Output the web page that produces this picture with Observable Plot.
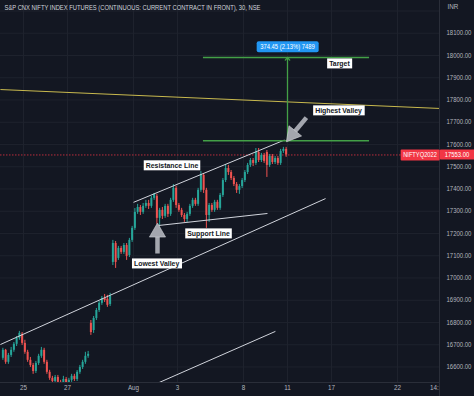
<!DOCTYPE html>
<html><head><meta charset="utf-8">
<script src="https://cdn.jsdelivr.net/npm/d3@7"></script>
<script src="https://cdn.jsdelivr.net/npm/@observablehq/plot@0.6"></script>
<style>
html,body{margin:0;padding:0;background:#131722;}
#chart svg{display:block;}
</style></head><body><div id="chart"></div>
<script>
// ---- data (30-min candles, approx 8 per trading day; day 0 = Jul 22) ----
const barsPerDay = 8;
const opens = [
16639,16675,16621,16652,16675,16702,16729,16747,
16706,16666,16630,16607,16580,16616,16648,16675,
16621,16576,16549,16535,16553,16531,16522,16544,
16513,16540,16558,16544,16576,16598,16621,16648,
16796,16764,16818,16854,16886,16908,16904,16881,
17070,17155,17088,17133,17115,17146,17101,17169,
17223,17295,17317,17295,17322,17335,17322,17358,
17367,17268,17304,17277,17322,17286,17349,17403,
17326,17304,17281,17263,17286,17322,17349,17331,
17394,17461,17394,17281,17326,17304,17340,17313,
17371,17438,17492,17474,17447,17420,17394,17411,
17438,17474,17506,17528,17515,17564,17528,17551,
17564,17506,17546,17519,17537,17515,17569,17578];
const closes = [
16675,16621,16652,16675,16702,16729,16751,16706,
16666,16630,16607,16580,16616,16648,16675,16621,
16576,16549,16535,16553,16531,16522,16544,16526,
16540,16558,16544,16576,16598,16621,16648,16657,
16755,16818,16854,16886,16908,16899,16877,16917,
17155,17070,17133,17115,17146,17097,17169,17223,
17295,17317,17295,17322,17335,17322,17358,17376,
17268,17304,17277,17322,17286,17349,17403,17326,
17304,17281,17263,17286,17322,17349,17331,17394,
17465,17394,17281,17326,17304,17340,17313,17371,
17438,17492,17474,17447,17420,17394,17411,17438,
17474,17506,17528,17515,17564,17528,17551,17524,
17506,17546,17519,17537,17515,17569,17578,17553];
const highs = [
16684,16679,16661,16688,16710,16737,16760,16755,
16720,16675,16643,16616,16625,16657,16688,16684,
16630,16585,16558,16562,16562,16540,16558,16553,
16549,16567,16567,16584,16607,16630,16666,16670,
16809,16827,16863,16895,16917,16926,16922,16931,
17169,17164,17142,17142,17155,17155,17178,17232,
17312,17331,17326,17335,17349,17349,17367,17380,
17376,17313,17317,17331,17331,17358,17420,17412,
17335,17313,17290,17295,17331,17358,17358,17403,
17479,17470,17403,17335,17335,17349,17349,17380,
17447,17510,17506,17483,17456,17429,17420,17447,
17483,17515,17537,17537,17582,17582,17560,17560,
17573,17555,17555,17546,17546,17578,17587,17587];
const lows = [
16630,16612,16612,16643,16666,16692,16720,16697,
16657,16621,16598,16567,16571,16607,16639,16612,
16567,16540,16517,16526,16513,16504,16513,16508,
16504,16531,16535,16535,16567,16589,16612,16639,
16742,16751,16809,16845,16877,16890,16868,16872,
17056,17043,17079,17106,17106,17079,17092,17160,
17214,17286,17281,17286,17313,17308,17313,17349,
17241,17232,17263,17268,17272,17277,17340,17313,
17295,17272,17250,17250,17277,17313,17322,17322,
17385,17380,17223,17250,17295,17295,17304,17304,
17362,17429,17461,17438,17411,17380,17376,17402,
17429,17465,17497,17501,17506,17519,17519,17515,
17452,17497,17510,17510,17506,17506,17560,17542];

// time axis (trading-day index) and labels
const tickDays = [1, 3, 6, 8, 11, 13, 15, 18];
const tickLabels = ["25", "27", "Aug", "3", "8", "11", "17", "22"];
const edgeTickDay = 19.68, edgeTickLabel = "14:";
const axisPrices = d3.range(16600, 18101, 100);
const gridPrices = d3.range(16600, 18201, 100);

// drawings (day index, price)
const trendX1 = [6.0, 7.14, -0.05, 6.77];
const trendY1 = [17340, 17236, 16701, 16513];
const trendX2 = [12.86, 12.09, 14.73, 12.45];
const trendY2 = [17620, 17290, 17357, 16760];
const yellowX = [-0.05, 19.91], yellowY = [17847, 17762];
const targetLevels = [17617, 17991.5];
const targetSpan = [9.18, 16.73];
const measureDay = 13.0;
const measureText = "374.45 (2.13%) 7489";
const lastClose = 17553;
const symbolName = "NIFTYQ2022";
const noteTexts = ["Target", "Highest Valley", "Resistance Line", "Support Line", "Lowest Valley"];
const noteX = [15.36, 15.32, 7.75, 9.41, 7.05];
const noteY = [17964, 17753, 17506, 17200, 17065];
const arrowTailX = [7.09, 13.86], arrowTailY = [17110, 17721];
const arrowHeadX = [7.09, 13.22], arrowHeadY = [17205, 17645];
const arrowAngle = [0, 219];
const title = "S&P CNX NIFTY INDEX FUTURES (CONTINUOUS: CURRENT CONTRACT IN FRONT), 30, NSE";

// ---- build ----
const bars = opens.map((o, i) => ({
  t: Math.floor(i / barsPerDay) + ((i % barsPerDay) + 0.5) / barsPerDay,
  open: o, close: closes[i], high: highs[i], low: lows[i]
}));
const upBars = bars.filter(d => d.close >= d.open);
const downBars = bars.filter(d => d.close < d.open);
const trends = trendX1.map((x, i) => ({x1: x, y1: trendY1[i], x2: trendX2[i], y2: trendY2[i]}));
const notes = noteTexts.map((s, i) => ({s, x: noteX[i], y: noteY[i]}));
const arrowsGray = arrowTailX.map((x, i) => ({x1: x, y1: arrowTailY[i], x2: arrowHeadX[i], y2: arrowHeadY[i], a: arrowAngle[i]}));

const UP = "#26a69a", DOWN = "#ef5350", GRID = "#1e222d", SEP = "#2a2e39", TXT = "#b2b5be";
const X0 = -1 / 22, X1 = 438 / 22, Y0 = 16530.3, Y1 = 18247.2;

const chart = Plot.plot({
  width: 474, height: 396,
  marginLeft: 0, marginRight: 35, marginTop: 0, marginBottom: 14,
  style: {background: "#131722", color: TXT, fontFamily: "'Liberation Sans', Arial, sans-serif", fontSize: "7px", overflow: "visible"},
  x: {type: "linear", domain: [X0, X1]},
  y: {type: "linear", domain: [Y0, Y1]},
  marks: [
    Plot.gridY(gridPrices, {stroke: GRID, strokeOpacity: 1}),
    Plot.gridX(tickDays, {stroke: GRID, strokeOpacity: 1}),
    Plot.axisY(axisPrices, {anchor: "right", tickSize: 0, tickPadding: 7, tickFormat: d => d.toFixed(2), fill: TXT, fontSize: 6.5}),
    Plot.axisX(tickDays, {anchor: "bottom", tickSize: 0, tickPadding: 3, tickFormat: d => tickLabels[tickDays.indexOf(d)], fill: TXT, fontSize: 7}),
    Plot.text([edgeTickLabel], {x: edgeTickDay, frameAnchor: "bottom", dy: 7, fill: TXT, fontSize: 7}),
    // separators
    Plot.ruleY([Y0], {stroke: SEP}),
    Plot.ruleX([X1], {y1: Y0 - 14 / 0.2225, y2: Y1, stroke: SEP}),
    // yellow line
    Plot.link([0], {x1: yellowX[0], y1: yellowY[0], x2: yellowX[1], y2: yellowY[1], stroke: "#c8b94e", strokeWidth: 1, clip: true}),
    // last price line
    Plot.ruleY([lastClose], {stroke: "#f23645", strokeOpacity: 0.75, strokeDasharray: "1.5,1.5"}),
    // candles
    Plot.ruleX(upBars, {x: "t", y1: "low", y2: "high", stroke: UP, strokeWidth: 1, clip: true}),
    Plot.ruleX(downBars, {x: "t", y1: "low", y2: "high", stroke: DOWN, strokeWidth: 1, clip: true}),
    Plot.ruleX(upBars, {x: "t", y1: "open", y2: "close", stroke: UP, strokeWidth: 2, clip: true}),
    Plot.ruleX(downBars, {x: "t", y1: "open", y2: "close", stroke: DOWN, strokeWidth: 2, clip: true}),
    // trend lines
    Plot.link(trends, {x1: "x1", y1: "y1", x2: "x2", y2: "y2", stroke: "#d1d4dc", strokeWidth: 1, clip: true}),
    // target measure
    Plot.ruleY(targetLevels, {x1: targetSpan[0], x2: targetSpan[1], stroke: "#43a047", strokeWidth: 1.5}),
    Plot.arrow([0], {x1: measureDay, y1: targetLevels[0], x2: measureDay, y2: targetLevels[1], stroke: "#43a047", strokeWidth: 1.3, headLength: 4, headAngle: 80}),
    Plot.text([measureText], {x: measureDay, y: 18040, fill: "white", fontSize: 6.5}),
    // gray arrows
    Plot.link(arrowsGray, {x1: "x1", y1: "y1", x2: "x2", y2: "y2", stroke: "#a3a6ae", strokeWidth: 4.5}),
    Plot.dot(arrowsGray, {x: "x2", y: "y2", symbol: "triangle", r: 6, fill: "#a3a6ae", stroke: "#cfd1d6", strokeWidth: 0.6, rotate: "a"}),
    // notes
    Plot.text(notes, {x: "x", y: "y", text: "s", fill: "#131722", fontSize: 7.5, fontWeight: "bold"}),
    // price labels
    Plot.text([lastClose], {y: d => d, frameAnchor: "right", dx: 17.5, textAnchor: "middle", text: d => d.toFixed(2), fill: "white", fontSize: 6.5}),
    Plot.text([lastClose], {y: d => d, frameAnchor: "right", dx: -19.5, textAnchor: "middle", text: () => symbolName, fill: "white", fontSize: 6.5}),
    // header
    Plot.text([title], {frameAnchor: "top-left", dx: 4, dy: 4, lineAnchor: "top", textAnchor: "start", fill: "#d1d4dc", fontSize: 7.5}),
    Plot.text(["INR"], {frameAnchor: "top-right", dx: 8, dy: 4, lineAnchor: "top", textAnchor: "start", fill: TXT, fontSize: 7})
  ]
});
document.getElementById("chart").append(chart);

// ---- post: compress text widths & add label boxes ----
const NS = "http://www.w3.org/2000/svg";
const texts = Array.from(chart.querySelectorAll("text"));
function squash(t, factor, fixed) {
  const w = t.getComputedTextLength();
  t.setAttribute("textLength", fixed || w * factor);
  t.setAttribute("lengthAdjust", "spacingAndGlyphs");
}
function box(t, fill, px, py, rx) {
  const b = t.getBBox();
  const r = document.createElementNS(NS, "rect");
  r.setAttribute("x", b.x - px);
  r.setAttribute("y", b.y - py);
  r.setAttribute("width", b.width + 2 * px);
  r.setAttribute("height", b.height + 2 * py);
  r.setAttribute("rx", rx);
  r.setAttribute("fill", fill);
  if (t.getAttribute("transform")) r.setAttribute("transform", t.getAttribute("transform"));
  t.parentNode.insertBefore(r, t);
}
for (const t of texts) {
  const s = t.textContent;
  if (s === title) squash(t, 0, 256);
  else if (/^\d{5}\.\d\d$/.test(s) && s !== lastClose.toFixed(2)) squash(t, 0.92);
  else if (tickLabels.includes(s) || s === edgeTickLabel || s === "INR") squash(t, 0.9);
  else if (noteTexts.includes(s)) { squash(t, 0.92); box(t, "white", 2, 0.5, 0); }
  else if (s === measureText) { squash(t, 0.9); box(t, "#2196f3", 3.5, 1.5, 2); }
  else if (s === lastClose.toFixed(2)) { squash(t, 0.9); box(t, "#f23645", 5, 1.5, 1); }
  else if (s === symbolName) { squash(t, 0.88); box(t, "#f23645", 2.5, 1.5, 1); }
}
</script>
</body></html>
